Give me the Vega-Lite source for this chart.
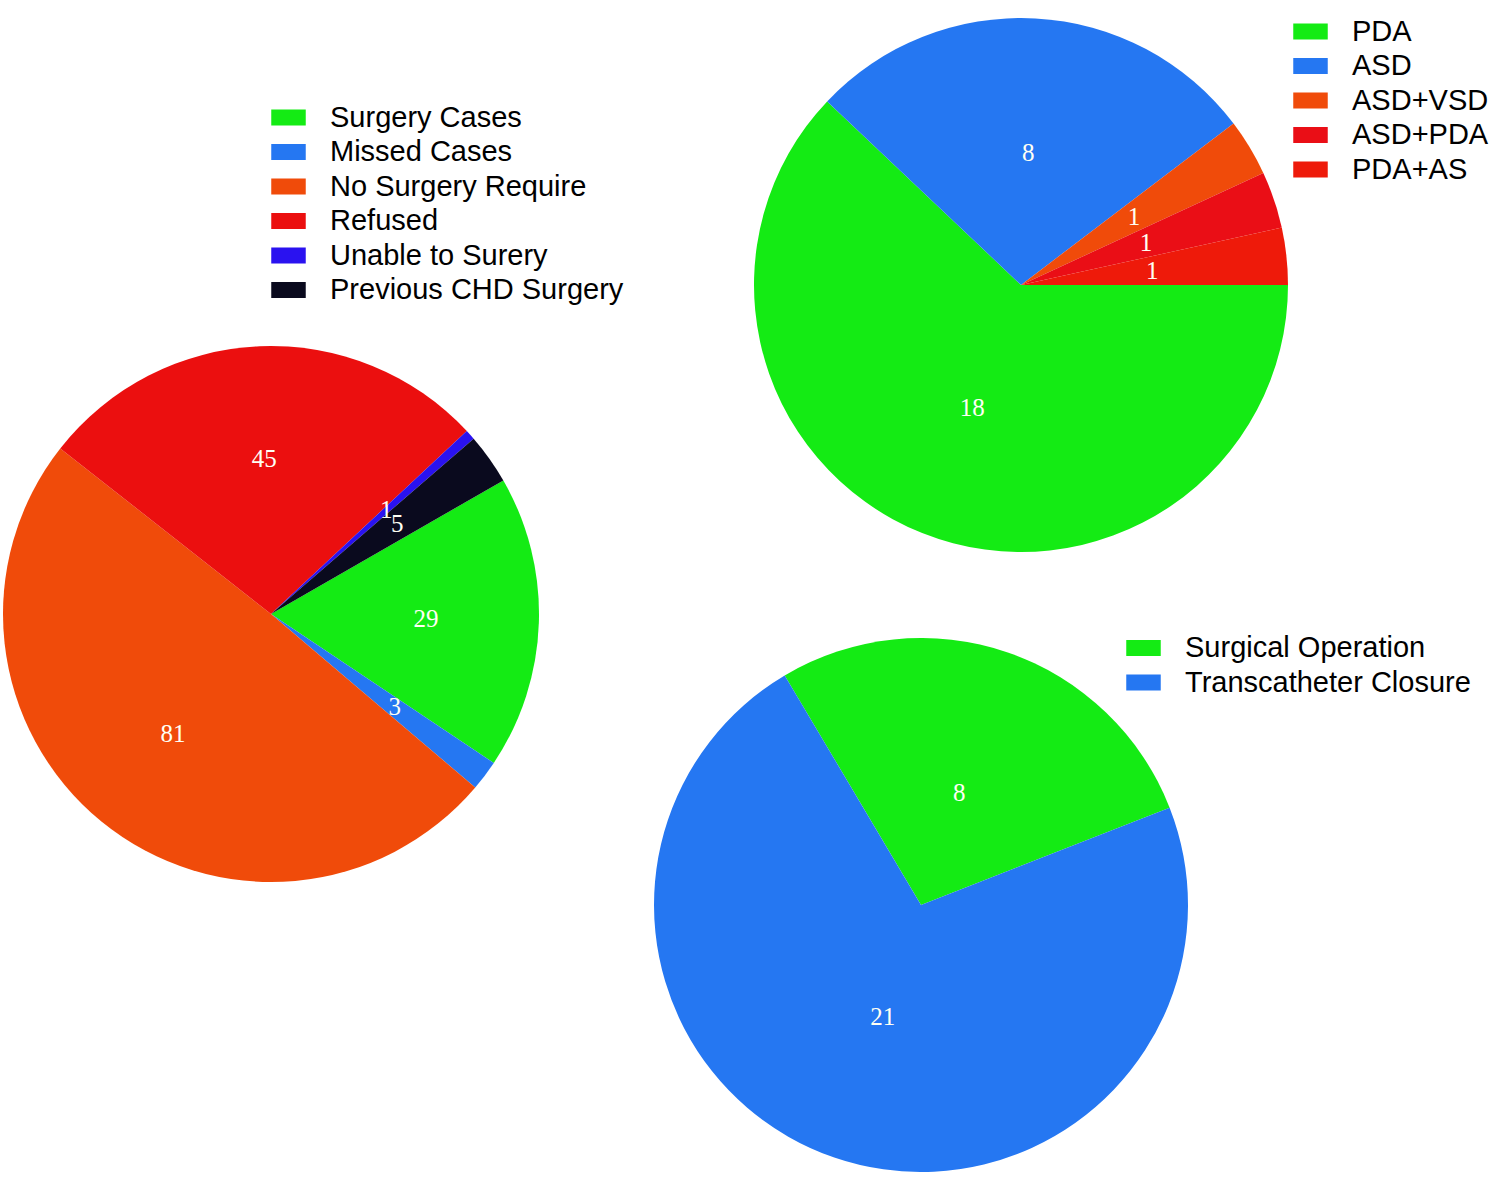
{
  "$schema": "https://vega.github.io/schema/vega-lite/v6.json",
  "padding": 0,
  "background": "white",
  "config": {
    "view": {"stroke": null},
    "legend": {
      "labelFont": "Liberation Sans",
      "labelFontSize": 29,
      "labelColor": "#000000",
      "symbolType": "M-1,-0.46H1V0.46H-1Z",
      "symbolSize": 1190,
      "symbolStrokeWidth": 0,
      "symbolOpacity": 1,
      "labelOffset": 24,
      "rowPadding": 1.5,
      "padding": 0,
      "symbolOffset": 0,
      "labelLimit": 600
    }
  },
  "spacing": 30,
  "resolve": {"scale": {"color": "independent", "theta": "independent"}},
  "hconcat": [
    {
      "spacing": 20,
      "resolve": {"scale": {"color": "independent", "theta": "independent"}},
      "vconcat": [
        {"width": 1, "height": 80, "data": {"values": []}, "mark": {"type": "point", "opacity": 0}},
        {
          "width": 542,
          "height": 536,
          "data": {"values": [
            {"group": "Surgery Cases", "count": 29},
            {"group": "Missed Cases", "count": 3},
            {"group": "No Surgery Require", "count": 81},
            {"group": "Refused", "count": 45},
            {"group": "Unable to Surery", "count": 1},
            {"group": "Previous CHD Surgery", "count": 5}
          ]},
          "transform": [{"window": [{"op": "row_number", "as": "rank"}]}],
          "encoding": {
            "theta": {"field": "count", "type": "quantitative", "stack": true, "scale": {"range": [1.049, 7.3322]}},
            "order": {"field": "rank", "type": "quantitative"}
          },
          "layer": [
            {
              "mark": {"type": "arc", "outerRadius": 268},
              "encoding": {
                "color": {
                  "field": "group", "type": "nominal",
                  "scale": {
                    "domain": ["Surgery Cases", "Missed Cases", "No Surgery Require", "Refused", "Unable to Surery", "Previous CHD Surgery"],
                    "range": ["#14EB14", "#2577F2", "#F04B0A", "#EB0F0F", "#2A12F0", "#0A0A1E"]
                  },
                  "legend": {"title": null, "orient": "none", "legendX": 271, "legendY": -246, "symbolType": "M-1,-0.46H1V0.46H-1Z"}
                }
              }
            },
            {
              "mark": {"type": "text", "radius": 155, "font": "Liberation Serif", "fontSize": 25},
              "encoding": {
                "text": {"field": "count", "type": "quantitative"},
                "detail": {"field": "group", "type": "nominal"},
                "color": {"value": "#FFFFF4"}
              }
            }
          ]
        }
      ]
    },
    {
      "spacing": 60,
      "resolve": {"scale": {"color": "independent", "theta": "independent"}},
      "vconcat": [
        {
          "width": 734,
          "height": 570,
          "data": {"values": [
            {"defect": "PDA", "count": 18},
            {"defect": "ASD", "count": 8},
            {"defect": "ASD+VSD", "count": 1},
            {"defect": "ASD+PDA", "count": 1},
            {"defect": "PDA+AS", "count": 1}
          ]},
          "transform": [{"window": [{"op": "row_number", "as": "rank"}]}],
          "encoding": {
            "theta": {"field": "count", "type": "quantitative", "stack": true, "scale": {"range": [1.5708, 7.854]}},
            "order": {"field": "rank", "type": "quantitative"}
          },
          "layer": [
            {
              "mark": {"type": "arc", "outerRadius": 267},
              "encoding": {
                "color": {
                  "field": "defect", "type": "nominal",
                  "scale": {
                    "domain": ["PDA", "ASD", "ASD+VSD", "ASD+PDA", "PDA+AS"],
                    "range": ["#14EB14", "#2577F2", "#F04B0A", "#EA0E16", "#EE1A0A"]
                  },
                  "legend": {"title": null, "orient": "none", "legendX": 639, "legendY": 14, "symbolType": "M-1,-0.46H1V0.46H-1Z"}
                }
              }
            },
            {
              "mark": {"type": "text", "radius": 132, "font": "Liberation Serif", "fontSize": 25},
              "encoding": {
                "text": {"field": "count", "type": "quantitative"},
                "detail": {"field": "defect", "type": "nominal"},
                "color": {"value": "#FFFFF4"}
              }
            }
          ]
        },
        {
          "width": 534,
          "height": 534,
          "data": {"values": [
            {"method": "Surgical Operation", "count": 8},
            {"method": "Transcatheter Closure", "count": 21}
          ]},
          "transform": [{"window": [{"op": "row_number", "as": "rank"}]}],
          "encoding": {
            "theta": {"field": "count", "type": "quantitative", "stack": true, "scale": {"range": [-0.5358, 5.7474]}},
            "order": {"field": "rank", "type": "quantitative"}
          },
          "layer": [
            {
              "mark": {"type": "arc", "outerRadius": 267},
              "encoding": {
                "color": {
                  "field": "method", "type": "nominal",
                  "scale": {
                    "domain": ["Surgical Operation", "Transcatheter Closure"],
                    "range": ["#14EB14", "#2577F2"]
                  },
                  "legend": {"title": null, "orient": "none", "legendX": 472, "legendY": -7.5, "symbolType": "M-1,-0.46H1V0.46H-1Z"}
                }
              }
            },
            {
              "mark": {"type": "text", "radius": 118, "font": "Liberation Serif", "fontSize": 25},
              "encoding": {
                "text": {"field": "count", "type": "quantitative"},
                "detail": {"field": "method", "type": "nominal"},
                "color": {"value": "#FFFFF4"}
              }
            }
          ]
        }
      ]
    }
  ]
}
